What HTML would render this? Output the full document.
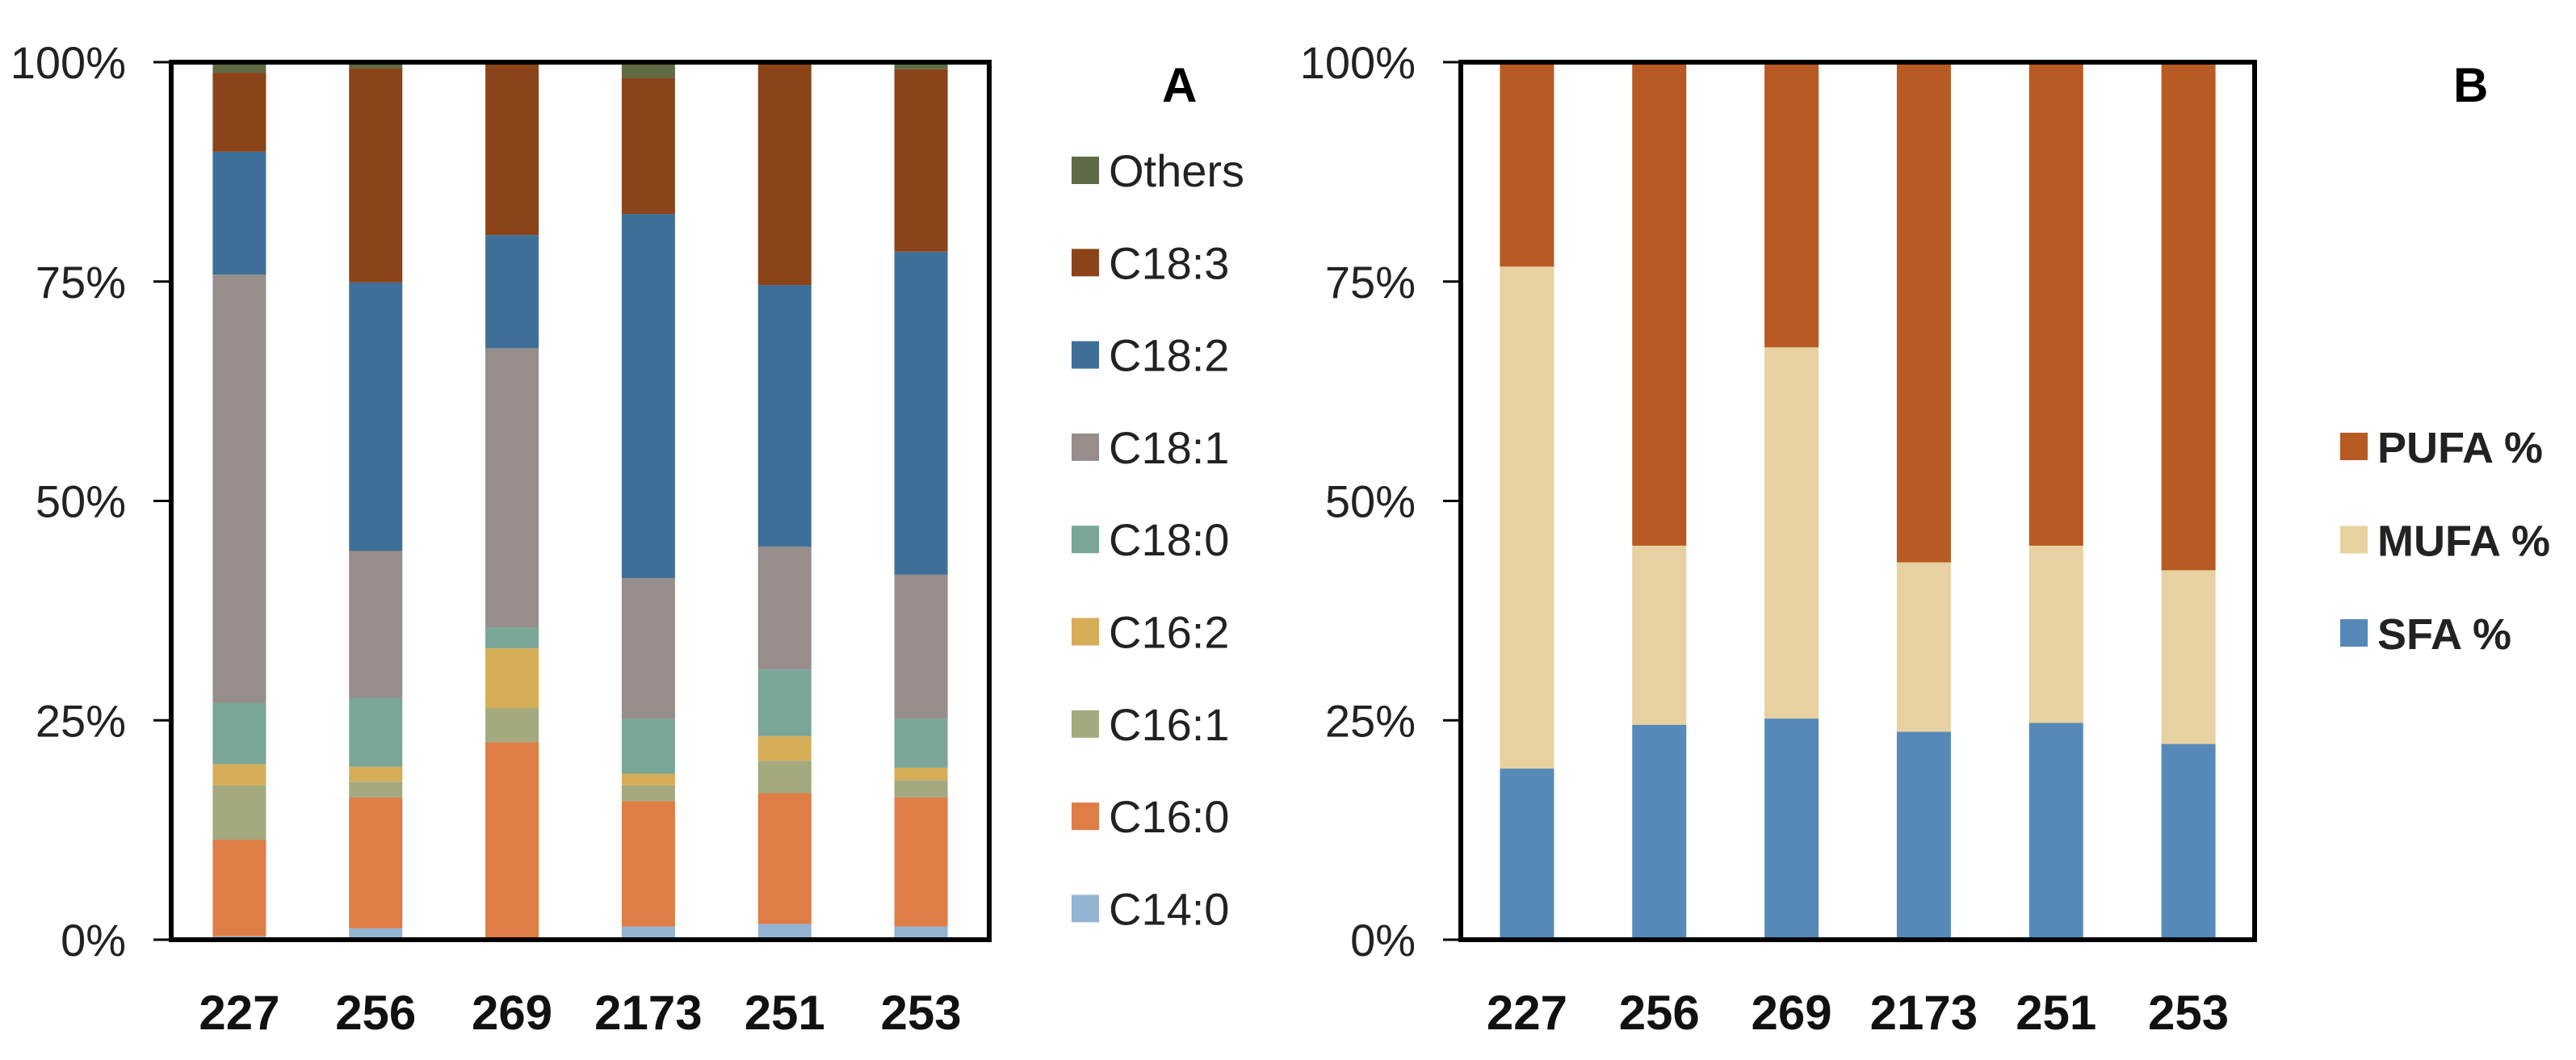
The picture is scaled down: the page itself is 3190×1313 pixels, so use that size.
<!DOCTYPE html>
<html><head><meta charset="utf-8"><style>
html,body{margin:0;padding:0;background:#fff;}
svg{display:block;font-family:"Liberation Sans",sans-serif;}
</style></head><body>
<svg id="chart" width="3190" height="1313" viewBox="0 0 3190 1313" xmlns="http://www.w3.org/2000/svg"></svg>
<script>
const categories = ["227","256","269","2173","251","253"];
const seriesA = ["C14:0","C16:0","C16:1","C16:2","C18:0","C18:1","C18:2","C18:3","Others"];
const colorsA = ["#93b4d3","#de7d46","#a4a97f","#d6ad57","#7aa698","#978d8a","#3e6f98","#8b4419","#5f6b45"];
const c14_0 = [0.4,1.3,0.1,1.5,1.8,1.5];
const c16_0 = [11.0,14.9,22.4,14.3,14.9,14.7];
const c16_1 = [6.2,1.8,3.9,1.8,3.7,2.0];
const c16_2 = [2.4,1.7,6.8,1.3,2.8,1.4];
const c18_0 = [7.0,7.9,2.4,6.3,7.6,5.6];
const c18_1 = [48.8,16.7,31.8,16.0,14.0,16.4];
const c18_2 = [14.0,30.6,12.9,41.5,29.8,36.8];
const c18_3 = [9.0,24.4,19.5,15.5,25.2,20.8];
const others = [1.2,0.7,0.2,1.8,0.2,0.8];
const seriesB = ["SFA %","MUFA %","PUFA %"];
const colorsB = ["#5689b8","#e8d1a0","#b85a23"];
const sfa = [19.5,24.5,25.2,23.7,24.7,22.3];
const mufa = [57.2,20.4,42.3,19.3,20.2,19.8];
const pufa = [23.3,55.1,32.5,57.0,55.1,57.9];
const yTicks = [0,25,50,75,100];

const NS="http://www.w3.org/2000/svg";
const svg=document.getElementById('chart');
function mk(tag,attrs,parent){const e=document.createElementNS(NS,tag);for(const k in attrs)e.setAttribute(k,attrs[k]);(parent||svg).appendChild(e);return e;}

function drawPanel(p){
  const g=mk('g',{});
  
  
  const y=v=>p.y0-(v/100)*(p.y0-p.y100);
  const step=(p.right-p.left)/categories.length;
  const x=i=>p.left+step*(i+0.5);
  // bars
  categories.forEach((c,i)=>{
    let acc=0;
    p.data.forEach((arr,s)=>{
      const v=arr[i];
      const r=mk('rect',{x:x(i)-p.bw/2,y:y(acc+v),width:p.bw,height:Math.max(0,y(acc)-y(acc+v)),fill:p.colors[s]},g);
      
      
      acc+=v;
    });
    const t=mk('text',{x:x(i),y:1275,'text-anchor':'middle','font-size':60,'font-weight':'bold',fill:'#111'},g);
    t.textContent=c;
    
    
  });
  // frame
  const f=mk('rect',{x:p.left,y:p.y100,width:p.right-p.left,height:p.y0-p.y100,fill:'none',stroke:'#000','stroke-width':6},g);
  
  
  yTicks.forEach(v=>{
    mk('line',{x1:p.left-22,x2:p.left,y1:y(v),y2:y(v),stroke:'#000','stroke-width':3},g);
    const t=mk('text',{x:p.left-56,y:y(v)+20,'text-anchor':'end','font-size':56,fill:'#222'},g);
    t.textContent=v+'%';
    
    
  });
  // legend
  p.legend.forEach((L,k)=>{
    const s=L.s;
    const sq=mk('rect',{x:p.lx,y:L.y-17,width:34,height:34,fill:p.colors[s]},g);
    
    
    const t=mk('text',{x:p.lx+46,y:L.y+20,'font-size':p.lfs,'font-weight':p.lbold?'bold':'normal',fill:'#222'},g);
    t.textContent=p.series[s];
    
    
  });
  const tl=mk('text',{x:p.tx,y:126,'font-size':60,'font-weight':'bold',fill:'#000'},g);
  tl.textContent=p.title;
  
  
}
const legA=[8,7,6,5,4,3,2,1,0].map((s,k)=>({s:s,y:211+k*114.3}));
drawPanel({name:'panel-a',left:212,right:1225,y0:1164,y100:77,bw:66,data:[c14_0,c16_0,c16_1,c16_2,c18_0,c18_1,c18_2,c18_3,others],series:seriesA,colors:colorsA,legend:legA,lx:1327,lfs:56,lbold:false,tx:1439,title:'A'});
const legB=[2,1,0].map((s,k)=>({s:s,y:553+k*115.5}));
drawPanel({name:'panel-b',left:1809,right:2792,y0:1164,y100:77,bw:67,data:[sfa,mufa,pufa],series:seriesB,colors:colorsB,legend:legB,lx:2898,lfs:54,lbold:true,tx:3038,title:'B'});
</script>
</body></html>
